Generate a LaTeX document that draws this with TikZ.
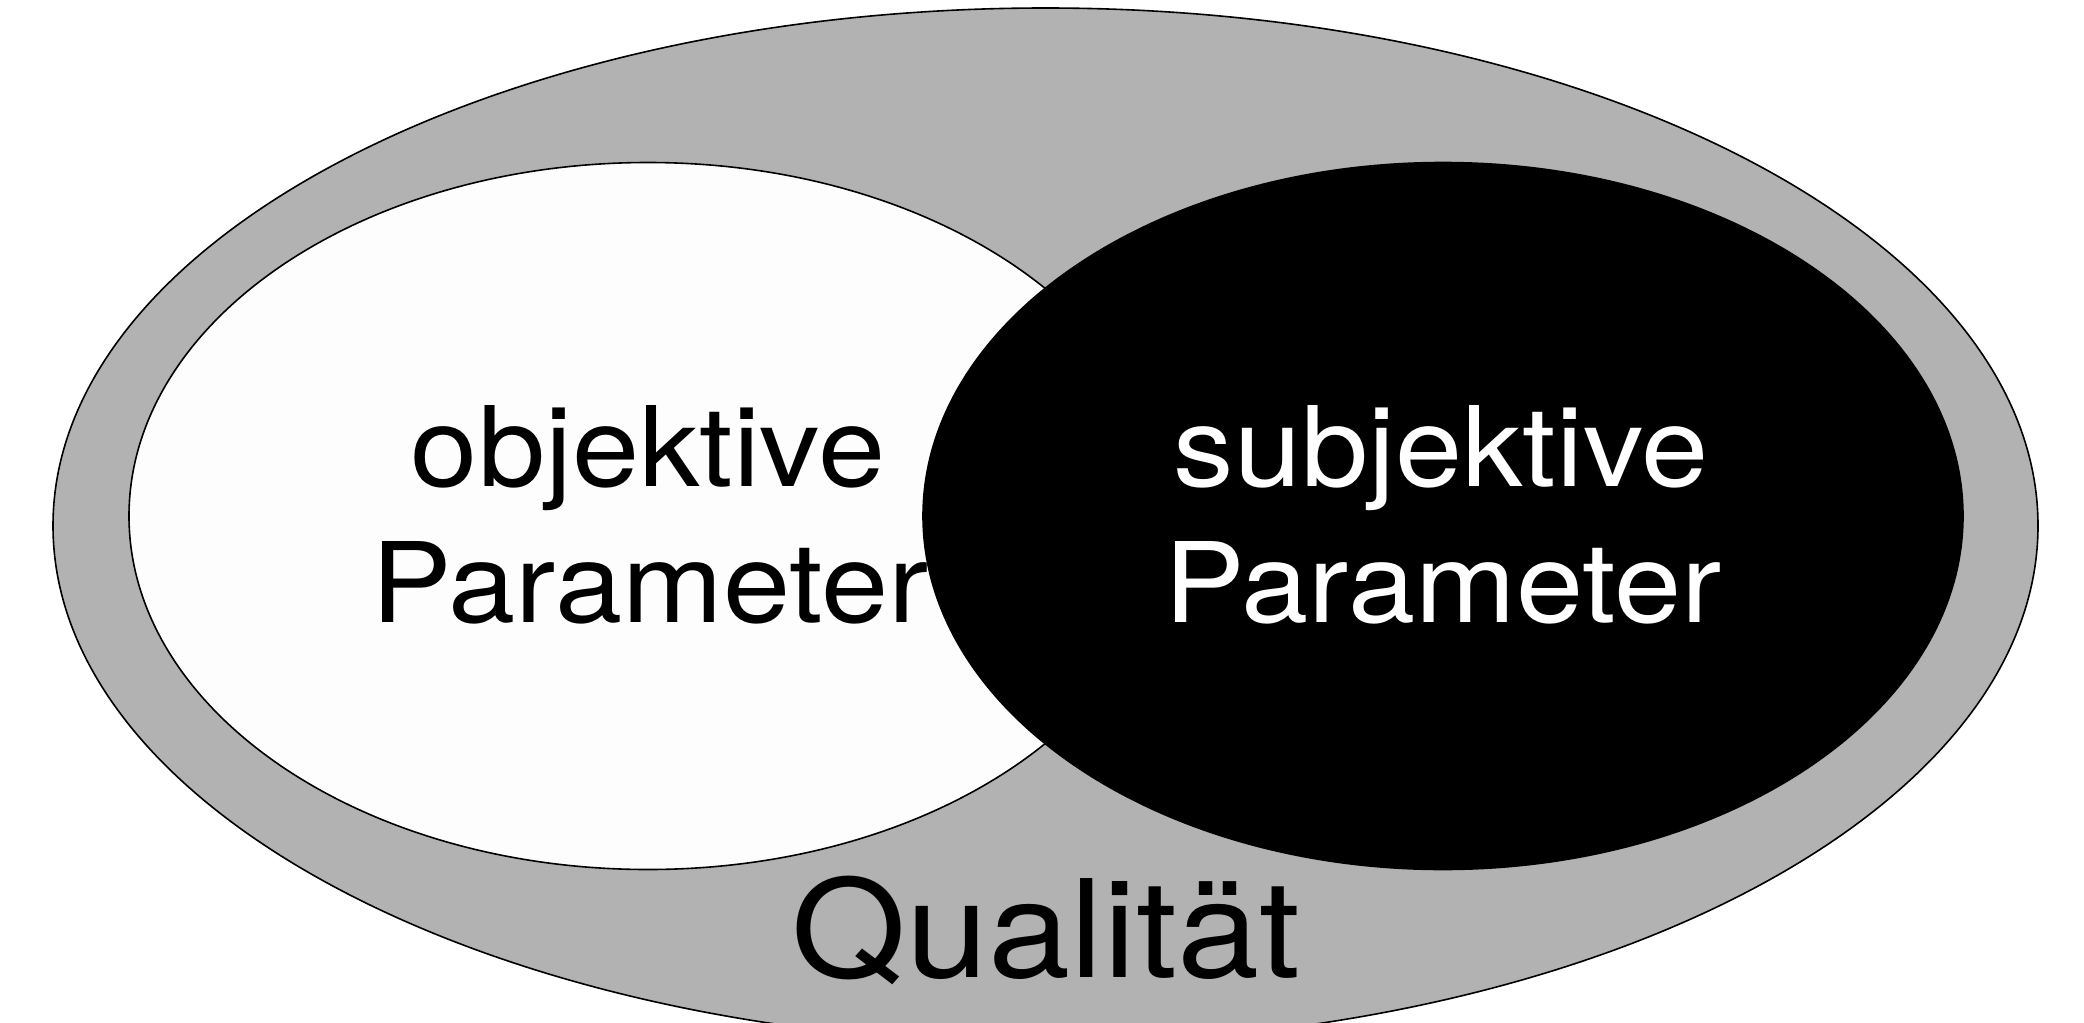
\documentclass[tikz,border=0pt]{standalone}
\usepackage{fontspec}
\setmainfont{TeX Gyre Heros}
\definecolor{ringgrey}{HTML}{B2B2B2}
\definecolor{offwhite}{HTML}{FDFDFD}
\begin{document}
\begin{tikzpicture}[x=0.5pt,y=-0.5pt,
  outline/.style={draw=black,line width=0.8pt},
  lbl/.style={inner sep=0pt,anchor=base,font=\fontsize{60.4pt}{66pt}\selectfont},
  biglbl/.style={inner sep=0pt,anchor=base,font=\fontsize{73.8pt}{80pt}\selectfont}]
\useasboundingbox (0,0) rectangle (2084,1023);
\fill[white] (0,0) rectangle (2084,1023);
\clip (0,0) rectangle (2084,1023);
% outer ellipse
\filldraw[outline,fill=ringgrey] (1045.5,525.7) ellipse [x radius=992.5, y radius=517.7];
% white ellipse
\filldraw[outline,fill=offwhite] (648,516) ellipse [x radius=519, y radius=353.5];
% black ellipse
\filldraw[outline,fill=black] (1443,516) ellipse [x radius=520, y radius=353.5];
% labels
\node[lbl] (obj1) at (648,486) {\scalebox{1}[0.92]{objektive}};
\node[lbl] (obj2) at (650,622) {\scalebox{1}[0.92]{Parameter}};
\node[lbl,text=white] (sub1) at (1441,486) {\scalebox{1}[0.92]{subjektive}};
\node[lbl,text=white] (sub2) at (1443,622) {\scalebox{1}[0.92]{Parameter}};
\node[biglbl] (qual) at (1046,977) {\scalebox{1}[0.92]{Qualität}};
\end{tikzpicture}
\end{document}
